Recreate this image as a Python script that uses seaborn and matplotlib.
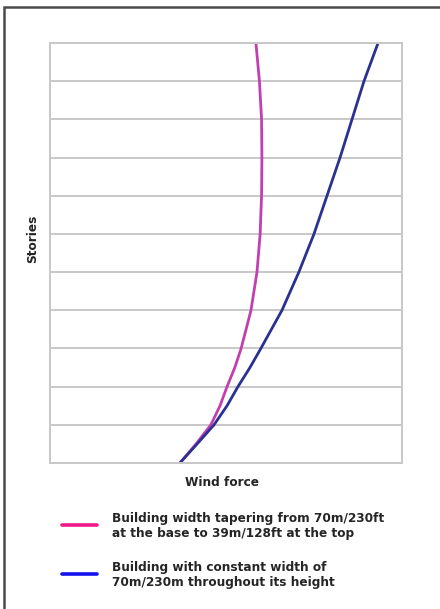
import matplotlib
matplotlib.use("Agg")
import matplotlib.pyplot as plt
from matplotlib.lines import Line2D
from matplotlib.patches import Rectangle
import numpy as np
import pandas as pd
import seaborn as sns

# Height levels (stories, bottom to top)
stories = [0, 5, 10, 15, 20, 25, 30, 40, 50, 60, 70, 80, 90, 100, 110]

# Relative wind force on each building form
force_tapered = [36.9, 41.5, 45.7, 48.3, 50.3, 52.5, 54.3, 57.1, 58.8, 59.7,
                 60.1, 60.2, 60.1, 59.5, 58.5]
force_constant = [36.9, 41.8, 46.6, 50.3, 53.4, 56.8, 59.9, 65.9, 70.7, 75.0,
                  78.7, 82.4, 85.8, 89.2, 93.2]

labels = [
    "Building width tapering from 70m/230ft\nat the base to 39m/128ft at the top",
    "Building with constant width of\n70m/230m throughout its height",
]

line_colors = ["#c23fb2", "#2b3190"]
key_colors = ["#ee1a8a", "#1212ee"]

df = pd.concat([
    pd.DataFrame({"force": force_tapered, "stories": stories, "series": labels[0]}),
    pd.DataFrame({"force": force_constant, "stories": stories, "series": labels[1]}),
])

sns.set_theme(style="white")
plt.rcParams["font.family"] = ["DejaVu Sans"]

W, H = 440, 609
fig = plt.figure(figsize=(W / 100, H / 100), dpi=100)
ax = fig.add_axes([50 / W, 1 - 463 / H, 352 / W, 420 / H])

sns.lineplot(data=df, x="force", y="stories", hue="series",
             palette=dict(zip(labels, line_colors)), sort=False,
             estimator=None, orient="y", legend=False, linewidth=2.0, ax=ax)
for ln in ax.get_lines():
    ln.set_solid_joinstyle("round")
    ln.set_solid_capstyle("round")

ax.set_xlim(0, 100)
ax.set_ylim(0, 110)
ax.set_yticks(np.arange(0, 111, 10))
ax.set_xticks([])
ax.tick_params(left=False, labelleft=False, bottom=False, labelbottom=False)
ax.grid(axis="y", color="#c8c8c8", linewidth=1.4)
ax.set_axisbelow(True)
for s in ax.spines.values():
    s.set_color("#c8c8c8")
    s.set_linewidth(1.4)
ax.set_xlabel("")
ax.set_ylabel("")

txt = dict(color="#252525", fontweight="bold", fontsize=8.7)
fig.text(33 / W, 1 - 239 / H, "Stories", rotation=90, ha="center", va="center", **txt)
fig.text(222 / W, 1 - 482 / H, "Wind force", ha="center", va="center", **txt)

# Key
for i, (lab, col) in enumerate(zip(labels, key_colors)):
    yc = [525, 574][i]
    fig.add_artist(Line2D([62 / W, 97 / W], [1 - yc / H, 1 - yc / H],
                          color=col, linewidth=2.6, transform=fig.transFigure))
    fig.text(112 / W, 1 - (yc + 1) / H, lab, ha="left", va="center",
             linespacing=1.25, **txt)

# Outer frame
fig.add_artist(Rectangle((4 / W, -0.05), 1.2, 1 - 7 / H + 0.05,
                         transform=fig.transFigure, fill=False,
                         edgecolor="#4a4a4a", linewidth=1.8))

fig.savefig("out.png", dpi=100, facecolor="white")
